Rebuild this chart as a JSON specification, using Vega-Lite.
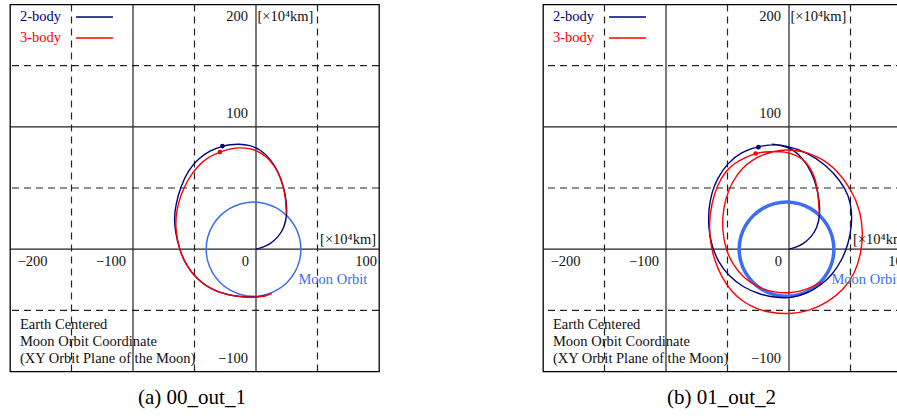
{
  "$schema": "https://vega.github.io/schema/vega-lite/v6.json",
  "padding": {"left": 8, "top": 2.5, "right": 0, "bottom": 0},
  "spacing": 160,
  "background": "white",
  "config": {
    "view": {"stroke": "#000", "strokeWidth": 1.3},
    "text": {"font": "Liberation Serif", "fontSize": 14.5, "baseline": "middle", "color": "#111"},
    "title": {"font": "Liberation Serif", "fontSize": 21, "fontWeight": "normal", "color": "#000", "baseline": "top", "offset": 15}
  },
  "datasets": {
    "gx": [{"v": -150, "k": "d"}, {"v": -100, "k": "s"}, {"v": -50, "k": "d"}, {"v": 0, "k": "s"}, {"v": 50, "k": "d"}],
    "gy": [{"v": -50, "k": "d"}, {"v": 0, "k": "s"}, {"v": 50, "k": "d"}, {"v": 100, "k": "s"}, {"v": 150, "k": "d"}],
    "xlab": [{"x": -100, "y": 0, "t": "−100"}, {"x": 0, "y": 0, "t": "0"}],
    "xlab200": [{"x": -200, "y": 0, "t": "−200"}],
    "xlab100": [{"x": 100, "y": 0, "t": "100"}],
    "ylab": [{"x": 0, "y": 100, "t": "100"}, {"x": 0, "y": -100, "t": "−100"}],
    "ylabtop": [{"x": 0, "y": 200, "t": "200"}],
    "unitY": [{"x": 0, "y": 200, "t": "[×10⁴km]"}],
    "unitX": [{"x": 100, "y": 0, "t": "[×10⁴km]"}],
    "note": [{"x": -191.9, "y": -62.0, "t": "Earth Centered"}, {"x": -191.9, "y": -75.9, "t": "Moon Orbit Coordinate"}, {"x": -191.9, "y": -89.8, "t": "(XY  Orbit Plane of the Moon)"}],
    "moonLabel": [{"x": 34.5, "y": -25.3, "t": "Moon Orbit"}],
    "legend": [{"s": "2-body", "x": -191.9, "y": 189.8, "x1": -146.3, "x2": -116.3}, {"s": "3-body", "x": -191.9, "y": 172.6, "x1": -146.3, "x2": -116.3}],
    "moon": [
      {"i": 0, "x": 36.5, "y": 0}, {"i": 1, "x": 35.19, "y": 9.97}, {"i": 2, "x": 31.34, "y": 19.25}, {"i": 3, "x": 25.22, "y": 27.22},
      {"i": 4, "x": 17.25, "y": 33.34}, {"i": 5, "x": 7.97, "y": 37.19}, {"i": 6, "x": -2, "y": 38.5}, {"i": 7, "x": -11.97, "y": 37.19},
      {"i": 8, "x": -21.25, "y": 33.34}, {"i": 9, "x": -29.22, "y": 27.22}, {"i": 10, "x": -35.34, "y": 19.25}, {"i": 11, "x": -39.19, "y": 9.97},
      {"i": 12, "x": -40.5, "y": 0}, {"i": 13, "x": -39.19, "y": -9.97}, {"i": 14, "x": -35.34, "y": -19.25}, {"i": 15, "x": -29.22, "y": -27.22},
      {"i": 16, "x": -21.25, "y": -33.34}, {"i": 17, "x": -11.97, "y": -37.19}, {"i": 18, "x": -2, "y": -38.5}, {"i": 19, "x": 7.97, "y": -37.19},
      {"i": 20, "x": 17.25, "y": -33.34}, {"i": 21, "x": 25.22, "y": -27.22}, {"i": 22, "x": 31.34, "y": -19.25}, {"i": 23, "x": 35.19, "y": -9.97}
    ],
    "trajA": [
      {"s": "2-body", "i": 0, "x": 0, "y": 0}, {"s": "2-body", "i": 1, "x": 4.6, "y": 1.1}, {"s": "2-body", "i": 2, "x": 11.4, "y": 4.1},
      {"s": "2-body", "i": 3, "x": 18.2, "y": 10.0}, {"s": "2-body", "i": 4, "x": 22.9, "y": 17.4}, {"s": "2-body", "i": 5, "x": 25.2, "y": 27.7},
      {"s": "2-body", "i": 6, "x": 24.8, "y": 38.6}, {"s": "2-body", "i": 7, "x": 22.8, "y": 50.0}, {"s": "2-body", "i": 8, "x": 18.4, "y": 63.0},
      {"s": "2-body", "i": 9, "x": 11.5, "y": 74.0}, {"s": "2-body", "i": 10, "x": 3.5, "y": 81.5}, {"s": "2-body", "i": 11, "x": -5.0, "y": 85.0},
      {"s": "2-body", "i": 12, "x": -14.0, "y": 86.0}, {"s": "2-body", "i": 13, "x": -21.2, "y": 85.4}, {"s": "2-body", "i": 14, "x": -27.3, "y": 84.3},
      {"s": "2-body", "i": 15, "x": -37.5, "y": 80.7}, {"s": "2-body", "i": 16, "x": -47.0, "y": 73.9}, {"s": "2-body", "i": 17, "x": -55.1, "y": 64.5},
      {"s": "2-body", "i": 18, "x": -61.4, "y": 50.8}, {"s": "2-body", "i": 19, "x": -65.4, "y": 35.8}, {"s": "2-body", "i": 20, "x": -66.5, "y": 25.0},
      {"s": "2-body", "i": 21, "x": -65.6, "y": 14.1}, {"s": "2-body", "i": 22, "x": -62.5, "y": 0.5}, {"s": "2-body", "i": 23, "x": -57.0, "y": -13.1},
      {"s": "2-body", "i": 24, "x": -48.6, "y": -24.0}, {"s": "2-body", "i": 25, "x": -37.5, "y": -32.3}, {"s": "2-body", "i": 26, "x": -23.9, "y": -37.4},
      {"s": "2-body", "i": 27, "x": -10.3, "y": -39.2}, {"s": "2-body", "i": 28, "x": 0.6, "y": -39.2}, {"s": "2-body", "i": 29, "x": 9.0, "y": -37.8},
      {"s": "3-body", "i": 0, "x": 24.7, "y": 29.1}, {"s": "3-body", "i": 1, "x": 24.1, "y": 41.3}, {"s": "3-body", "i": 2, "x": 22.3, "y": 50.9},
      {"s": "3-body", "i": 3, "x": 18.4, "y": 62.6}, {"s": "3-body", "i": 4, "x": 11.4, "y": 73.2}, {"s": "3-body", "i": 5, "x": 3.5, "y": 79.4},
      {"s": "3-body", "i": 6, "x": -5.5, "y": 82.6}, {"s": "3-body", "i": 7, "x": -14.4, "y": 83.1}, {"s": "3-body", "i": 8, "x": -22.5, "y": 81.7},
      {"s": "3-body", "i": 9, "x": -29.3, "y": 79.4}, {"s": "3-body", "i": 10, "x": -38.8, "y": 75.3}, {"s": "3-body", "i": 11, "x": -47.0, "y": 68.5},
      {"s": "3-body", "i": 12, "x": -55.1, "y": 57.6}, {"s": "3-body", "i": 13, "x": -61.4, "y": 44.0}, {"s": "3-body", "i": 14, "x": -64.9, "y": 30.4},
      {"s": "3-body", "i": 15, "x": -65.5, "y": 16.8}, {"s": "3-body", "i": 16, "x": -63.0, "y": 1.9}, {"s": "3-body", "i": 17, "x": -57.0, "y": -13.1},
      {"s": "3-body", "i": 18, "x": -47.3, "y": -25.5}, {"s": "3-body", "i": 19, "x": -34.8, "y": -33.8}, {"s": "3-body", "i": 20, "x": -21.2, "y": -38.0},
      {"s": "3-body", "i": 21, "x": -7.6, "y": -39.6}, {"s": "3-body", "i": 22, "x": 3.3, "y": -39.2}, {"s": "3-body", "i": 23, "x": 12.8, "y": -36.4}
    ],
    "dotsA": [{"s": "2-body", "x": -27.3, "y": 84.3}, {"s": "3-body", "x": -29.3, "y": 79.4}],
    "trajB": [
      {"s": "2-body", "i": 0, "x": 0, "y": 0}, {"s": "2-body", "i": 1, "x": 4.6, "y": 1.1}, {"s": "2-body", "i": 2, "x": 11.4, "y": 4.1},
      {"s": "2-body", "i": 3, "x": 18.2, "y": 10.0}, {"s": "2-body", "i": 4, "x": 22.9, "y": 17.4}, {"s": "2-body", "i": 5, "x": 25.2, "y": 27.7},
      {"s": "2-body", "i": 6, "x": 24.8, "y": 38.6}, {"s": "2-body", "i": 7, "x": 22.8, "y": 50.0}, {"s": "2-body", "i": 8, "x": 18.4, "y": 63.0},
      {"s": "2-body", "i": 9, "x": 11.5, "y": 74.0}, {"s": "2-body", "i": 10, "x": 3.5, "y": 81.5}, {"s": "2-body", "i": 11, "x": -5.0, "y": 84.7},
      {"s": "2-body", "i": 12, "x": -13.5, "y": 85.5}, {"s": "2-body", "i": 13, "x": -20.5, "y": 84.7}, {"s": "2-body", "i": 14, "x": -24.9, "y": 83.8},
      {"s": "2-body", "i": 15, "x": -39.4, "y": 79.4}, {"s": "2-body", "i": 16, "x": -50.3, "y": 69.9}, {"s": "2-body", "i": 17, "x": -58.2, "y": 58.0},
      {"s": "2-body", "i": 18, "x": -62.8, "y": 46.5}, {"s": "2-body", "i": 19, "x": -65.3, "y": 33.2}, {"s": "2-body", "i": 20, "x": -65.6, "y": 18.0},
      {"s": "2-body", "i": 21, "x": -63.0, "y": 3.0}, {"s": "2-body", "i": 22, "x": -57.5, "y": -10.5}, {"s": "2-body", "i": 23, "x": -49.0, "y": -22.0},
      {"s": "2-body", "i": 24, "x": -37.5, "y": -31.0}, {"s": "2-body", "i": 25, "x": -24.0, "y": -37.0}, {"s": "2-body", "i": 26, "x": -10.0, "y": -39.8},
      {"s": "2-body", "i": 27, "x": 3.0, "y": -39.8}, {"s": "2-body", "i": 28, "x": 15.0, "y": -36.0}, {"s": "2-body", "i": 29, "x": 26.0, "y": -29.5},
      {"s": "2-body", "i": 30, "x": 35.5, "y": -20.5}, {"s": "2-body", "i": 31, "x": 43.0, "y": -9.0}, {"s": "2-body", "i": 32, "x": 48.3, "y": 4.5},
      {"s": "2-body", "i": 33, "x": 51.0, "y": 19.0}, {"s": "2-body", "i": 34, "x": 51.0, "y": 32.0}, {"s": "2-body", "i": 35, "x": 48.5, "y": 44.0},
      {"s": "2-body", "i": 36, "x": 42.1, "y": 55.5}, {"s": "2-body", "i": 37, "x": 30.5, "y": 68.5}, {"s": "2-body", "i": 38, "x": 14.5, "y": 79.4},
      {"s": "2-body", "i": 39, "x": -2.7, "y": 84.8}, {"s": "2-body", "i": 40, "x": -14.0, "y": 85.8},
      {"s": "3-body", "i": 0, "x": 24.7, "y": 27.7}, {"s": "3-body", "i": 1, "x": 24.0, "y": 40.0}, {"s": "3-body", "i": 2, "x": 22.8, "y": 52.0},
      {"s": "3-body", "i": 3, "x": 19.5, "y": 63.0}, {"s": "3-body", "i": 4, "x": 13.6, "y": 72.0}, {"s": "3-body", "i": 5, "x": 5.0, "y": 77.5},
      {"s": "3-body", "i": 6, "x": -3.5, "y": 79.6}, {"s": "3-body", "i": 7, "x": -12.0, "y": 80.0}, {"s": "3-body", "i": 8, "x": -20.0, "y": 79.6},
      {"s": "3-body", "i": 9, "x": -27.1, "y": 78.2}, {"s": "3-body", "i": 10, "x": -36.0, "y": 75.0}, {"s": "3-body", "i": 11, "x": -44.9, "y": 69.9},
      {"s": "3-body", "i": 12, "x": -52.0, "y": 63.0}, {"s": "3-body", "i": 13, "x": -58.0, "y": 53.0}, {"s": "3-body", "i": 14, "x": -63.0, "y": 37.5},
      {"s": "3-body", "i": 15, "x": -65.0, "y": 21.0}, {"s": "3-body", "i": 16, "x": -64.0, "y": 5.0}, {"s": "3-body", "i": 17, "x": -60.5, "y": -9.5},
      {"s": "3-body", "i": 18, "x": -54.5, "y": -23.5}, {"s": "3-body", "i": 19, "x": -46.5, "y": -35.0}, {"s": "3-body", "i": 20, "x": -37.5, "y": -43.0},
      {"s": "3-body", "i": 21, "x": -27.0, "y": -48.5}, {"s": "3-body", "i": 22, "x": -15.0, "y": -52.0}, {"s": "3-body", "i": 23, "x": 0.0, "y": -53.2},
      {"s": "3-body", "i": 24, "x": 16.5, "y": -50.5}, {"s": "3-body", "i": 25, "x": 31.5, "y": -43.5}, {"s": "3-body", "i": 26, "x": 44.5, "y": -33.0},
      {"s": "3-body", "i": 27, "x": 53.5, "y": -20.0}, {"s": "3-body", "i": 28, "x": 58.5, "y": -4.0}, {"s": "3-body", "i": 29, "x": 60.3, "y": 13.0},
      {"s": "3-body", "i": 30, "x": 58.0, "y": 31.0}, {"s": "3-body", "i": 31, "x": 51.7, "y": 47.0}, {"s": "3-body", "i": 32, "x": 39.0, "y": 65.0},
      {"s": "3-body", "i": 33, "x": 24.5, "y": 75.5}, {"s": "3-body", "i": 34, "x": 10.0, "y": 80.5}, {"s": "3-body", "i": 35, "x": -3.0, "y": 81.5},
      {"s": "3-body", "i": 36, "x": -12.0, "y": 80.0}, {"s": "3-body", "i": 37, "x": -20.4, "y": 77.6}, {"s": "3-body", "i": 38, "x": -29.5, "y": 73.2},
      {"s": "3-body", "i": 39, "x": -38.0, "y": 66.5}, {"s": "3-body", "i": 40, "x": -46.0, "y": 55.5}, {"s": "3-body", "i": 41, "x": -51.5, "y": 42.0},
      {"s": "3-body", "i": 42, "x": -54.0, "y": 28.0}, {"s": "3-body", "i": 43, "x": -54.0, "y": 14.0}, {"s": "3-body", "i": 44, "x": -51.5, "y": 0.0},
      {"s": "3-body", "i": 45, "x": -45.5, "y": -13.0}, {"s": "3-body", "i": 46, "x": -36.5, "y": -24.0}, {"s": "3-body", "i": 47, "x": -25.0, "y": -31.5},
      {"s": "3-body", "i": 48, "x": -12.0, "y": -35.5}, {"s": "3-body", "i": 49, "x": 2.0, "y": -36.0}, {"s": "3-body", "i": 50, "x": 15.0, "y": -33.0},
      {"s": "3-body", "i": 51, "x": 26.0, "y": -27.0}
    ],
    "dotsB": [{"s": "2-body", "x": -24.9, "y": 83.4}, {"s": "3-body", "x": -27.1, "y": 78.2}]
  },
  "hconcat": [
    {
      "width": 369, "height": 367,
      "title": {"text": "(a) 00_out_1", "orient": "bottom", "anchor": "middle", "dx": -2.5},
      "layer": [
        {"data": {"name": "gx"}, "mark": {"type": "rule", "color": "#222", "strokeWidth": 1.2},
         "encoding": {"x": {"field": "v", "type": "quantitative", "scale": {"domain": [-200, 100], "nice": false, "zero": false}, "axis": null},
                      "strokeDash": {"field": "k", "type": "nominal", "scale": {"domain": ["s", "d"], "range": [[1, 0], [7, 5]]}, "legend": null}}},
        {"data": {"name": "gy"}, "mark": {"type": "rule", "color": "#222", "strokeWidth": 1.2},
         "encoding": {"y": {"field": "v", "type": "quantitative", "scale": {"domain": [-100, 200], "nice": false, "zero": false}, "axis": null},
                      "strokeDash": {"field": "k", "type": "nominal", "scale": {"domain": ["s", "d"], "range": [[1, 0], [7, 5]]}, "legend": null}}},
        {"data": {"name": "moon"}, "mark": {"type": "line", "interpolate": "cardinal-closed", "color": "#3c6ef2", "strokeWidth": 1.5},
         "encoding": {"x": {"field": "x", "type": "quantitative", "scale": {"domain": [-200, 100], "nice": false, "zero": false}, "axis": null},
                      "y": {"field": "y", "type": "quantitative", "scale": {"domain": [-100, 200], "nice": false, "zero": false}, "axis": null},
                      "order": {"field": "i", "type": "quantitative"}}},
        {"data": {"name": "trajA"}, "mark": {"type": "line", "interpolate": "basis", "strokeWidth": 1.4},
         "encoding": {"x": {"field": "x", "type": "quantitative", "axis": null},
                      "y": {"field": "y", "type": "quantitative", "axis": null},
                      "order": {"field": "i", "type": "quantitative"},
                      "color": {"field": "s", "type": "nominal", "scale": {"domain": ["2-body", "3-body"], "range": ["#00007f", "#ff0000"]}, "legend": null}}},
        {"data": {"name": "dotsA"}, "mark": {"type": "circle", "size": 22, "opacity": 1},
         "encoding": {"x": {"field": "x", "type": "quantitative"}, "y": {"field": "y", "type": "quantitative"},
                      "color": {"field": "s", "type": "nominal", "legend": null}}},
        {"data": {"name": "legend"}, "mark": {"type": "rule", "strokeWidth": 1.4},
         "encoding": {"x": {"field": "x1", "type": "quantitative"}, "x2": {"field": "x2"}, "y": {"field": "y", "type": "quantitative"},
                      "color": {"field": "s", "type": "nominal", "legend": null}}},
        {"data": {"name": "legend"}, "mark": {"type": "text", "align": "left", "clip": true},
         "encoding": {"x": {"field": "x", "type": "quantitative"}, "y": {"field": "y", "type": "quantitative"}, "text": {"field": "s"},
                      "color": {"field": "s", "type": "nominal", "legend": null}}},
        {"data": {"name": "xlab"}, "mark": {"type": "text", "align": "right", "dx": -7, "dy": 13, "clip": true},
         "encoding": {"x": {"field": "x", "type": "quantitative"}, "y": {"field": "y", "type": "quantitative"}, "text": {"field": "t"}}},
        {"data": {"name": "xlab200"}, "mark": {"type": "text", "align": "left", "dx": 7.5, "dy": 13, "clip": true},
         "encoding": {"x": {"field": "x", "type": "quantitative"}, "y": {"field": "y", "type": "quantitative"}, "text": {"field": "t"}}},
        {"data": {"name": "xlab100"}, "mark": {"type": "text", "align": "right", "dx": -2, "dy": 13, "clip": true},
         "encoding": {"x": {"field": "x", "type": "quantitative"}, "y": {"field": "y", "type": "quantitative"}, "text": {"field": "t"}}},
        {"data": {"name": "ylab"}, "mark": {"type": "text", "align": "right", "dx": -8, "dy": -13, "clip": true},
         "encoding": {"x": {"field": "x", "type": "quantitative"}, "y": {"field": "y", "type": "quantitative"}, "text": {"field": "t"}}},
        {"data": {"name": "ylabtop"}, "mark": {"type": "text", "align": "right", "dx": -8, "dy": 12.5, "clip": true},
         "encoding": {"x": {"field": "x", "type": "quantitative"}, "y": {"field": "y", "type": "quantitative"}, "text": {"field": "t"}}},
        {"data": {"name": "unitY"}, "mark": {"type": "text", "align": "left", "dx": 1.5, "dy": 12.5, "clip": true},
         "encoding": {"x": {"field": "x", "type": "quantitative"}, "y": {"field": "y", "type": "quantitative"}, "text": {"field": "t"}}},
        {"data": {"name": "unitX"}, "mark": {"type": "text", "align": "right", "dx": -3, "dy": -9, "clip": true},
         "encoding": {"x": {"field": "x", "type": "quantitative"}, "y": {"field": "y", "type": "quantitative"}, "text": {"field": "t"}}},
        {"data": {"name": "moonLabel"}, "mark": {"type": "text", "align": "left", "color": "#3c6ef2", "clip": true},
         "encoding": {"x": {"field": "x", "type": "quantitative"}, "y": {"field": "y", "type": "quantitative"}, "text": {"field": "t"}}},
        {"data": {"name": "note"}, "mark": {"type": "text", "align": "left", "clip": true},
         "encoding": {"x": {"field": "x", "type": "quantitative"}, "y": {"field": "y", "type": "quantitative"}, "text": {"field": "t"}}}
      ]
    },
    {
      "width": 360, "height": 367,
      "title": {"text": "(b) 01_out_2", "orient": "bottom", "anchor": "middle", "dx": -1.5},
      "layer": [
        {"data": {"name": "gx"}, "mark": {"type": "rule", "color": "#222", "strokeWidth": 1.2},
         "encoding": {"x": {"field": "v", "type": "quantitative", "scale": {"domain": [-200, 92.68], "nice": false, "zero": false}, "axis": null},
                      "strokeDash": {"field": "k", "type": "nominal", "scale": {"domain": ["s", "d"], "range": [[1, 0], [7, 5]]}, "legend": null}}},
        {"data": {"name": "gy"}, "mark": {"type": "rule", "color": "#222", "strokeWidth": 1.2},
         "encoding": {"y": {"field": "v", "type": "quantitative", "scale": {"domain": [-100, 200], "nice": false, "zero": false}, "axis": null},
                      "strokeDash": {"field": "k", "type": "nominal", "scale": {"domain": ["s", "d"], "range": [[1, 0], [7, 5]]}, "legend": null}}},
        {"data": {"name": "moon"}, "mark": {"type": "line", "interpolate": "cardinal-closed", "color": "#3c6ef2", "strokeWidth": 3.5},
         "encoding": {"x": {"field": "x", "type": "quantitative", "scale": {"domain": [-200, 92.68], "nice": false, "zero": false}, "axis": null},
                      "y": {"field": "y", "type": "quantitative", "scale": {"domain": [-100, 200], "nice": false, "zero": false}, "axis": null},
                      "order": {"field": "i", "type": "quantitative"}}},
        {"data": {"name": "trajB"}, "mark": {"type": "line", "interpolate": "basis", "strokeWidth": 1.4},
         "encoding": {"x": {"field": "x", "type": "quantitative", "axis": null},
                      "y": {"field": "y", "type": "quantitative", "axis": null},
                      "order": {"field": "i", "type": "quantitative"},
                      "color": {"field": "s", "type": "nominal", "scale": {"domain": ["2-body", "3-body"], "range": ["#00007f", "#ff0000"]}, "legend": null}}},
        {"data": {"name": "dotsB"}, "mark": {"type": "circle", "size": 22, "opacity": 1},
         "encoding": {"x": {"field": "x", "type": "quantitative"}, "y": {"field": "y", "type": "quantitative"},
                      "color": {"field": "s", "type": "nominal", "legend": null}}},
        {"data": {"name": "legend"}, "mark": {"type": "rule", "strokeWidth": 1.4},
         "encoding": {"x": {"field": "x1", "type": "quantitative"}, "x2": {"field": "x2"}, "y": {"field": "y", "type": "quantitative"},
                      "color": {"field": "s", "type": "nominal", "legend": null}}},
        {"data": {"name": "legend"}, "mark": {"type": "text", "align": "left", "clip": true},
         "encoding": {"x": {"field": "x", "type": "quantitative"}, "y": {"field": "y", "type": "quantitative"}, "text": {"field": "s"},
                      "color": {"field": "s", "type": "nominal", "legend": null}}},
        {"data": {"name": "xlab"}, "mark": {"type": "text", "align": "right", "dx": -7, "dy": 13, "clip": true},
         "encoding": {"x": {"field": "x", "type": "quantitative"}, "y": {"field": "y", "type": "quantitative"}, "text": {"field": "t"}}},
        {"data": {"name": "xlab200"}, "mark": {"type": "text", "align": "left", "dx": 7.5, "dy": 13, "clip": true},
         "encoding": {"x": {"field": "x", "type": "quantitative"}, "y": {"field": "y", "type": "quantitative"}, "text": {"field": "t"}}},
        {"data": {"name": "xlab100"}, "mark": {"type": "text", "align": "right", "dx": -2, "dy": 13, "clip": true},
         "encoding": {"x": {"field": "x", "type": "quantitative"}, "y": {"field": "y", "type": "quantitative"}, "text": {"field": "t"}}},
        {"data": {"name": "ylab"}, "mark": {"type": "text", "align": "right", "dx": -8, "dy": -13, "clip": true},
         "encoding": {"x": {"field": "x", "type": "quantitative"}, "y": {"field": "y", "type": "quantitative"}, "text": {"field": "t"}}},
        {"data": {"name": "ylabtop"}, "mark": {"type": "text", "align": "right", "dx": -8, "dy": 12.5, "clip": true},
         "encoding": {"x": {"field": "x", "type": "quantitative"}, "y": {"field": "y", "type": "quantitative"}, "text": {"field": "t"}}},
        {"data": {"name": "unitY"}, "mark": {"type": "text", "align": "left", "dx": 1.5, "dy": 12.5, "clip": true},
         "encoding": {"x": {"field": "x", "type": "quantitative"}, "y": {"field": "y", "type": "quantitative"}, "text": {"field": "t"}}},
        {"data": {"name": "unitX"}, "mark": {"type": "text", "align": "right", "dx": -3, "dy": -9, "clip": true},
         "encoding": {"x": {"field": "x", "type": "quantitative"}, "y": {"field": "y", "type": "quantitative"}, "text": {"field": "t"}}},
        {"data": {"name": "moonLabel"}, "mark": {"type": "text", "align": "left", "color": "#3c6ef2", "clip": true},
         "encoding": {"x": {"field": "x", "type": "quantitative"}, "y": {"field": "y", "type": "quantitative"}, "text": {"field": "t"}}},
        {"data": {"name": "note"}, "mark": {"type": "text", "align": "left", "clip": true},
         "encoding": {"x": {"field": "x", "type": "quantitative"}, "y": {"field": "y", "type": "quantitative"}, "text": {"field": "t"}}}
      ]
    }
  ]
}
